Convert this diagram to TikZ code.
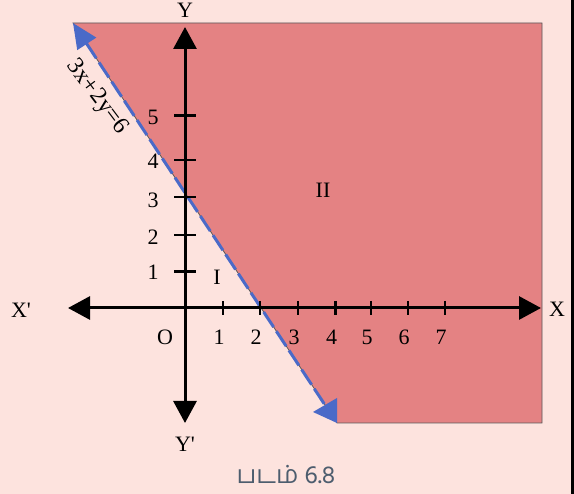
\documentclass[tikz,border=0pt]{standalone}
\usepackage{fontspec}
\setmainfont{Liberation Serif}
\newfontfamily\tamilfont[Script=Tamil]{Hind Madurai}
\usetikzlibrary{arrows.meta}
\definecolor{bgpink}{HTML}{FDE3DE}
\definecolor{regred}{HTML}{E48283}
\definecolor{lineblue}{HTML}{4A6AC8}
\definecolor{capgray}{HTML}{4D5D6E}
\tikzset{
  axis/.style={line width=3pt, -{Triangle[length=22pt,width=23pt]}},
  tickmark/.style={line width=2.6pt},
  lbl/.style={font=\fontsize{22}{24}\selectfont, inner sep=0pt},
}
\begin{document}
\begin{tikzpicture}[x=1pt,y=-1pt]
\useasboundingbox (0,0) rectangle (574,494);
\fill[bgpink] (0,0) rectangle (574,494);
\fill[black] (571,0) rectangle (574,494);
% feasible region
\draw[fill=regred, draw=gray!70!black, line width=0.8pt]
  (73,23) -- (542,23) -- (542,423) -- (337,423) -- cycle;
% line 3x+2y=6
\coordinate (la) at (73,23);
\coordinate (lb) at (325,405);
\draw[lineblue, line width=3pt, dash pattern=on 18pt off 5pt,
  {Triangle[length=25pt,width=22pt]}-] (la) -- (lb);
\fill[lineblue] (313,412) -- (337,398) -- (337,423) -- cycle;
% axes
\coordinate (O) at (185,308);
\coordinate (xl) at (68,308);
\coordinate (xr) at (541,308);
\coordinate (yt) at (185,27);
\coordinate (yb) at (185,423);
\draw[axis] (O) -- (xr);
\draw[axis] (O) -- (xl);
\draw[axis] (O) -- (yt);
\draw[axis] (O) -- (yb);
% x ticks
\foreach \xx/\lab in {223/1,260/2,298/3,335.5/4,371/5,408/6,445/7}{
  \draw[tickmark] (\xx,301) -- (\xx,315);
  \node[lbl] at (\xx-4,337) {\lab};
}
% y ticks
\foreach \yy/\yl/\lab in {271.5/272/1,235/237/2,197/200/3,160/161/4,115.5/117/5}{
  \draw[tickmark] (174,\yy) -- (196,\yy);
  \node[lbl] at (153,\yl) {\lab};
}
\node[lbl] (olab) at (165,337) {O};
\node[lbl] (xp) at (21,310) {X\textquotesingle};
\node[lbl] (xx) at (557,309) {X};
\node[lbl] (yy) at (185,10) {Y};
\node[lbl] (yp) at (185,444) {Y\textquotesingle};
\node[lbl] (r1) at (217,277) {I};
\node[lbl] (r2) at (323,190) {II};
\node[lbl, rotate=-53, font=\fontsize{24}{26}\selectfont] (eq) at (97,97) {3x+2y=6};
\node[inner sep=0pt, text=capgray, font=\tamilfont\fontsize{25}{28}\selectfont] (cap) at (286,475) {படம் 6.8};
\end{tikzpicture}
\end{document}
